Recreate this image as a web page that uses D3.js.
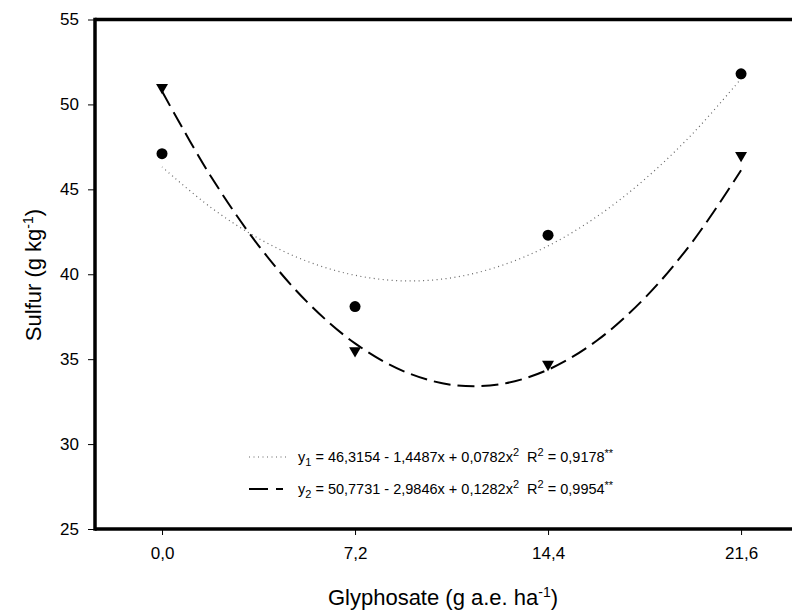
<!DOCTYPE html>
<html>
<head>
<meta charset="utf-8">
<script src="https://cdn.jsdelivr.net/npm/d3@7"></script>
<style>
  body { margin: 0; background: #fff; }
  text { font-family: "Liberation Sans", Arial, sans-serif; fill: #000; }
</style>
</head>
<body>
<script>
// doses of glyphosate
var doses = [0, 7.2, 14.4, 21.6];
var tickLabels = ["0,0", "7,2", "14,4", "21,6"];

// measured sulfur, two series
var sulfur1 = [47.1, 38.1, 42.3, 51.8];
var sulfur2 = [51.0, 35.5, 34.7, 47.0];

// fitted curves
var curveX = [0, 1.8, 3.6, 5.4, 7.2, 9.0, 10.8, 12.6, 14.4, 16.2, 18.0, 19.8, 21.6];
var curve1 = [46.32, 43.96, 42.11, 40.77, 39.94, 39.61, 39.79, 40.48, 41.67, 43.37, 45.58, 48.29, 51.51];
var curve2 = [50.77, 45.82, 41.69, 38.39, 35.93, 34.30, 33.49, 33.52, 34.38, 36.07, 38.59, 41.94, 46.12];

var yTicks = [25, 30, 35, 40, 45, 50, 55];

var width = 794, height = 616;
var plotLeft = 95, plotRight = 792, plotTop = 19.5, plotBottom = 529;

var svg = d3.select("body").append("svg")
    .attr("width", width)
    .attr("height", height);

var x = d3.scaleLinear().domain([-2.5, 23.5]).range([plotLeft, plotRight]);
var y = d3.scaleLinear().domain([25, 55]).range([plotBottom, plotTop]);

// axes
var xAxis = svg.append("g")
    .attr("transform", "translate(0," + plotBottom + ")")
    .call(d3.axisBottom(x).tickValues(doses).tickSize(6).tickPadding(12)
        .tickFormat(function(d, i) { return tickLabels[i]; }));
var yAxis = svg.append("g")
    .attr("transform", "translate(" + plotLeft + ",0)")
    .call(d3.axisLeft(y).tickValues(yTicks).tickSize(7).tickPadding(9));

[xAxis, yAxis].forEach(function(a) {
    a.select(".domain").remove();
    a.selectAll(".tick line").attr("stroke", "#000").attr("stroke-width", 1);
    a.selectAll(".tick text").style("font-size", "17px").attr("fill", "#000");
});

// frame lines
svg.append("line").attr("x1", plotLeft).attr("x2", plotRight).attr("y1", plotBottom).attr("y2", plotBottom)
    .attr("stroke", "#000").attr("stroke-width", 3.5);
svg.append("line").attr("x1", plotLeft).attr("x2", plotLeft).attr("y1", plotTop - 1.75).attr("y2", plotBottom + 1.75)
    .attr("stroke", "#000").attr("stroke-width", 3.5);
svg.append("line").attr("x1", plotLeft).attr("x2", plotRight).attr("y1", plotTop).attr("y2", plotTop)
    .attr("stroke", "#000").attr("stroke-width", 3.5);

// curves
var line = d3.line().curve(d3.curveCatmullRom)
    .x(function(d) { return x(d[0]); })
    .y(function(d) { return y(d[1]); });

svg.append("path")
    .attr("d", line(d3.zip(curveX, curve1)))
    .attr("fill", "none").attr("stroke", "#666").attr("stroke-width", 1.2)
    .attr("stroke-dasharray", "1,3.5");
svg.append("path")
    .attr("d", line(d3.zip(curveX, curve2)))
    .attr("fill", "none").attr("stroke", "#000").attr("stroke-width", 2)
    .attr("stroke-dasharray", "17,7");

// points
svg.selectAll(".pt1").data(d3.zip(doses, sulfur1)).enter().append("circle")
    .attr("cx", function(d) { return x(d[0]); })
    .attr("cy", function(d) { return y(d[1]); })
    .attr("r", 5.5).attr("fill", "#000");

var tri = d3.symbol().type(d3.symbolTriangle).size(62);
svg.selectAll(".pt2").data(d3.zip(doses, sulfur2)).enter().append("path")
    .attr("d", tri)
    .attr("transform", function(d) { return "translate(" + x(d[0]) + "," + y(d[1]) + ") rotate(180)"; })
    .attr("fill", "#000");

// legend
var legend = [
    {n: "1", eq: "46,3154 - 1,4487x + 0,0782x", r2: "0,9178", dot: true},
    {n: "2", eq: "50,7731 - 2,9846x + 0,1282x", r2: "0,9954", dot: false}
];
legend.forEach(function(l, i) {
    var ly = 462 + i * 32;
    svg.append("line").attr("x1", 249).attr("x2", l.dot ? 289 : 283).attr("y1", ly - 5).attr("y2", ly - 5)
        .attr("stroke", l.dot ? "#666" : "#000")
        .attr("stroke-width", l.dot ? 1.2 : 2)
        .attr("stroke-dasharray", l.dot ? "1,3.5" : "19,8");
    var t = svg.append("text").attr("x", 298).attr("y", ly).style("font-size", "14.5px");
    t.append("tspan").text("y");
    t.append("tspan").attr("dy", 4).style("font-size", "11px").text(l.n);
    t.append("tspan").attr("dy", -4).text(" = " + l.eq);
    t.append("tspan").attr("dy", -6).style("font-size", "11px").text("2");
    t.append("tspan").attr("dy", 6).text("\u00a0 R");
    t.append("tspan").attr("dy", -6).style("font-size", "11px").text("2");
    t.append("tspan").attr("dy", 6).text(" = " + l.r2);
    t.append("tspan").attr("dy", -5).style("font-size", "11px").text("**");
});

// axis titles
var xt = svg.append("text").attr("x", 443).attr("y", 605).attr("text-anchor", "middle")
    .style("font-size", "22px");
xt.append("tspan").text("Glyphosate (g a.e. ha");
xt.append("tspan").attr("dy", -8).style("font-size", "14px").text("-1");
xt.append("tspan").attr("dy", 8).text(")");

var yt = svg.append("text").attr("transform", "translate(41,275) rotate(-90)")
    .attr("text-anchor", "middle").style("font-size", "22px");
yt.append("tspan").text("Sulfur (g kg");
yt.append("tspan").attr("dy", -8).style("font-size", "14px").text("-1");
yt.append("tspan").attr("dy", 8).text(")");
</script>
</body>
</html>
